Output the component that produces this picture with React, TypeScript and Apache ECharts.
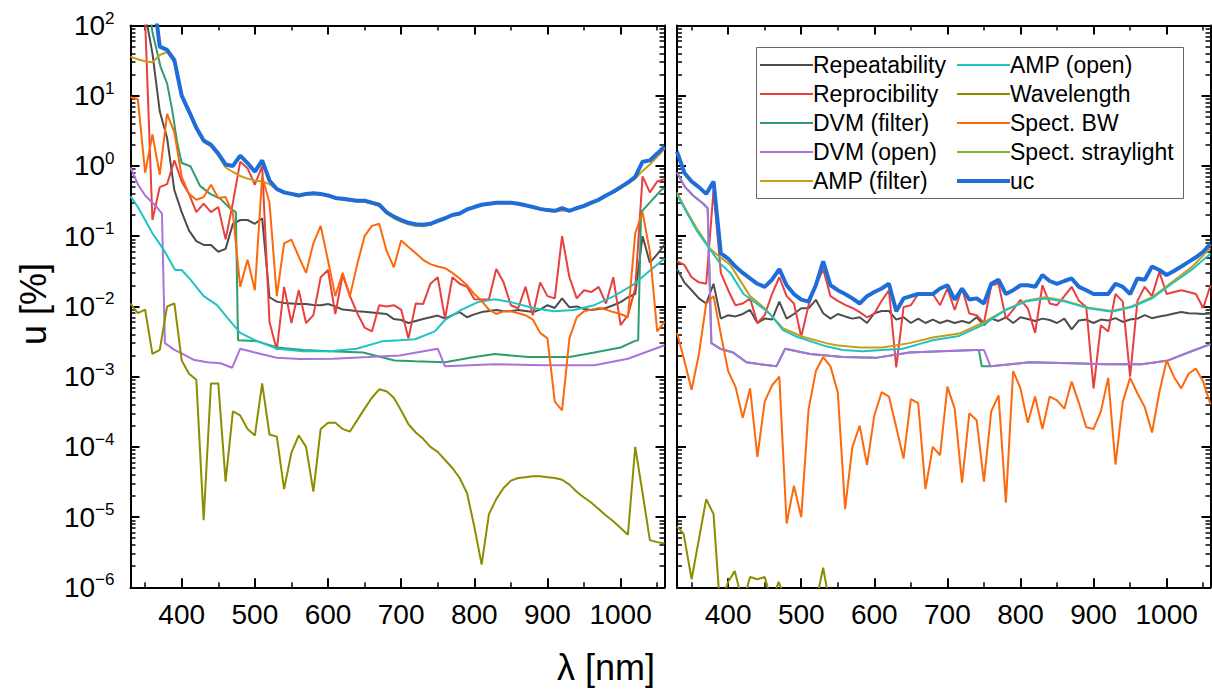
import React, { useEffect, useRef } from 'react';
import * as echarts from 'echarts';

// ---------- data ----------
const WL = [330, 340, 350, 360, 370, 380, 390, 400, 410, 420, 430, 440, 450, 460, 470, 480, 490, 500, 510, 520, 530, 540, 550, 560, 570, 580, 590, 600, 610, 620, 630, 640, 650, 660, 670, 680, 690, 700, 710, 720, 730, 740, 750, 760, 770, 780, 790, 800, 810, 820, 830, 840, 850, 860, 870, 880, 890, 900, 910, 920, 930, 940, 950, 960, 970, 980, 990, 1000, 1010, 1020, 1030, 1040, 1050, 1060];

// Left panel (values on the WL grid)
const L_uc = [1000, 1000, 800, 350, 50, 45, 32, 10, 6, 3.5,
  2.3, 2.0, 1.5, 1.05, 1.0, 1.4, 1.1, 0.83, 1.2, 0.62,
  0.47, 0.42, 0.40, 0.38, 0.40, 0.41, 0.40, 0.38, 0.35, 0.34,
  0.33, 0.32, 0.32, 0.30, 0.28, 0.22, 0.19, 0.17, 0.155, 0.148,
  0.145, 0.15, 0.165, 0.18, 0.20, 0.21, 0.24, 0.26, 0.28, 0.29,
  0.30, 0.30, 0.30, 0.29, 0.275, 0.26, 0.245, 0.235, 0.23, 0.25,
  0.23, 0.25, 0.27, 0.30, 0.33, 0.38, 0.43, 0.5, 0.58, 0.70,
  1.15, 1.2, 1.5, 1.9];
const L_ampF = [36, 33, 31, 30, 38, 42, 30, 9.5, 5.6, 3.3,
  2.2, 1.9, 1.4, 0.95, 0.82, 0.72, 0.66, 0.62, 0.6, 0.55,
  0.46, 0.41, 0.39, 0.37, 0.39, 0.40, 0.39, 0.37, 0.34, 0.33,
  0.32, 0.31, 0.31, 0.29, 0.27, 0.21, 0.18, 0.16, 0.148, 0.14,
  0.138, 0.145, 0.16, 0.175, 0.195, 0.205, 0.235, 0.255, 0.275, 0.285,
  0.295, 0.295, 0.295, 0.285, 0.27, 0.255, 0.24, 0.23, 0.225, 0.23,
  0.232, 0.245, 0.265, 0.29, 0.32, 0.37, 0.42, 0.48, 0.56, 0.66,
  0.85, 1.05, 1.35, 1.75];
const L_rep = [500, 300, 150, 40, 6, 2.5, 0.45, 0.22, 0.12, 0.085,
  0.075, 0.075, 0.06, 0.066, 0.15, 0.17, 0.17, 0.15, 0.18, 0.0135,
  0.0117, 0.0112, 0.011, 0.0108, 0.0108, 0.0105, 0.0104, 0.0108, 0.01, 0.009,
  0.0088, 0.0085, 0.0084, 0.0082, 0.008, 0.0078, 0.0066, 0.0064, 0.0058, 0.0062,
  0.0066, 0.007, 0.0074, 0.0067, 0.0075, 0.0083, 0.007, 0.0077, 0.0083, 0.0086,
  0.0089, 0.0085, 0.0085, 0.0089, 0.0086, 0.0083, 0.009, 0.0104, 0.0095, 0.013,
  0.0097, 0.01, 0.0092, 0.0089, 0.0092, 0.0095, 0.0104, 0.0115, 0.0135, 0.015,
  0.1, 0.042, 0.055, 0.075];
const L_repro = [300, 250, 120, 0.17, 0.5, 0.55, 1.2, 0.6, 0.4, 0.22,
  0.29, 0.22, 0.26, 0.09, 0.3, 1.15, 0.93, 0.54, 1.0, 0.006,
  0.0024, 0.019, 0.0058, 0.017, 0.0058, 0.0075, 0.026, 0.033, 0.0078, 0.028,
  0.014, 0.008, 0.005, 0.0044, 0.0104, 0.01, 0.0104, 0.009, 0.0035, 0.011,
  0.0108, 0.021, 0.026, 0.0067, 0.026, 0.021, 0.019, 0.0126, 0.0125, 0.0126,
  0.034, 0.022, 0.0104, 0.0094, 0.019, 0.0075, 0.022, 0.014, 0.013, 0.1,
  0.026, 0.013, 0.017, 0.016, 0.019, 0.011, 0.026, 0.0054, 0.0075, 0.018,
  0.71, 0.42, 0.6, 0.65];
const L_bw = [9.5, 9, 0.8, 2.8, 0.75, 5.5, 3.0, 0.7, 0.4, 0.33,
  0.36, 0.54, 0.35, 0.36, 0.21, 0.019, 0.046, 0.017, 0.71, 0.3,
  0.014, 0.079, 0.089, 0.051, 0.030, 0.079, 0.14, 0.045, 0.014, 0.030,
  0.014, 0.04, 0.1, 0.14, 0.15, 0.062, 0.036, 0.087, 0.07, 0.057,
  0.046, 0.04, 0.037, 0.035, 0.03, 0.025, 0.02, 0.015, 0.012, 0.009,
  0.0078, 0.0085, 0.0085, 0.008, 0.0075, 0.0065, 0.0042, 0.0035, 0.00044, 0.00033,
  0.0035, 0.007, 0.0085, 0.009, 0.0095, 0.009, 0.0083, 0.0078, 0.007, 0.11,
  0.22, 0.06, 0.0044, 0.006];
const L_wl = [0.011, 0.008, 0.009, 0.0021, 0.0024, 0.01, 0.011, 0.0017, 0.0011, 0.0009,
  9e-6, 0.0008, 0.0008, 3.2e-5, 0.00032, 0.00028, 0.00018, 0.000145, 0.0008, 0.00015,
  0.00014, 2.5e-5, 8.3e-5, 0.000145, 0.0001, 2.3e-5, 0.00018, 0.00022, 0.00022, 0.00018,
  0.000165, 0.00024, 0.00035, 0.0005, 0.00066, 0.00062, 0.0005, 0.00033, 0.00021, 0.00016,
  0.00013, 0.0001, 8.5e-5, 6.5e-5, 5e-5, 3.6e-5, 2.2e-5, 7.3e-6, 2.1e-6, 1.1e-5,
  1.8e-5, 2.6e-5, 3.3e-5, 3.6e-5, 3.7e-5, 3.8e-5, 3.8e-5, 3.7e-5, 3.6e-5, 3.4e-5,
  2.9e-5, 2.3e-5, 1.9e-5, 1.6e-5, 1.3e-5, 1.05e-5, 8.7e-6, 7e-6, 5.6e-6, 1e-4,
  2.2e-5, 4.7e-6, 4.4e-6, 4.2e-6];
// Left panel smooth curves: [wavelength, value]
const L_dvmF = [[340, 1000], [350, 500], [360, 80], [371, 26], [380, 15], [387, 6.3], [394, 2.1], [400, 1.1], [412, 0.99], [425, 0.52], [439, 0.4], [453, 0.34], [466, 0.25], [474, 0.22], [477, 0.0033], [503, 0.0032], [530, 0.0026], [566, 0.0024], [603, 0.0023], [648, 0.0022], [691, 0.0017], [719, 0.00165], [760, 0.0016], [800, 0.0019], [828, 0.0021], [874, 0.0019], [930, 0.0019], [964, 0.0022], [1000, 0.0026], [1019, 0.0032], [1024, 0.0033], [1028, 0.22], [1056, 0.46], [1060, 0.48]];
const L_dvmO = [[330, 0.95], [340, 0.55], [350, 0.38], [360, 0.3], [366, 0.26], [373, 0.21], [377, 0.003], [390, 0.0024], [398, 0.0022], [416, 0.00174], [435, 0.0016], [453, 0.00155], [469, 0.00134], [480, 0.0025], [500, 0.0022], [530, 0.00186], [562, 0.00178], [607, 0.0018], [655, 0.0019], [698, 0.002], [750, 0.0025], [760, 0.0014], [828, 0.0015], [896, 0.00145], [964, 0.00145], [1010, 0.0018], [1060, 0.0028]];
const L_ampO = [[330, 0.37], [340, 0.26], [350, 0.17], [360, 0.11], [375, 0.065], [391, 0.033], [400, 0.033], [412, 0.024], [430, 0.014], [448, 0.0105], [462, 0.007], [480, 0.0042], [503, 0.0032], [530, 0.0025], [566, 0.0023], [603, 0.0023], [639, 0.0025], [675, 0.0032], [698, 0.0033], [719, 0.0034], [746, 0.0044], [760, 0.0064], [782, 0.0089], [805, 0.0115], [828, 0.0126], [850, 0.0115], [882, 0.0094], [909, 0.0085], [936, 0.0089], [964, 0.0104], [991, 0.014], [1019, 0.021], [1041, 0.033], [1060, 0.048]];

// Right panel (values on the WL grid)
const R_uc = [1.6, 0.8, 0.6, 0.5, 0.4, 0.6, 0.057, 0.048, 0.037, 0.03,
  0.025, 0.021, 0.019, 0.024, 0.034, 0.02, 0.015, 0.0125, 0.0117, 0.02,
  0.044, 0.02, 0.017, 0.015, 0.013, 0.011, 0.014, 0.016, 0.018, 0.021,
  0.0085, 0.013, 0.014, 0.015, 0.015, 0.015, 0.018, 0.02, 0.0125, 0.018,
  0.0125, 0.013, 0.011, 0.021, 0.024, 0.015, 0.017, 0.02, 0.02, 0.019,
  0.028, 0.023, 0.021, 0.023, 0.025, 0.019, 0.017, 0.015, 0.015, 0.015,
  0.021, 0.019, 0.015, 0.025, 0.024, 0.037, 0.033, 0.028, 0.032, 0.037,
  0.043, 0.05, 0.06, 0.078];
const R_repro = [0.044, 0.039, 0.026, 0.022, 0.021, 0.45, 0.03, 0.017, 0.0104, 0.011,
  0.013, 0.0058, 0.0075, 0.015, 0.026, 0.014, 0.011, 0.0037, 0.0104, 0.02,
  0.034, 0.014, 0.012, 0.0105, 0.0095, 0.0083, 0.007, 0.0079, 0.012, 0.017,
  0.00135, 0.0098, 0.0104, 0.015, 0.015, 0.015, 0.0104, 0.018, 0.0089, 0.018,
  0.0079, 0.0075, 0.0058, 0.02, 0.021, 0.0067, 0.009, 0.0124, 0.0094, 0.0042,
  0.02, 0.011, 0.0104, 0.014, 0.019, 0.012, 0.0098, 0.00068, 0.0054, 0.0044,
  0.015, 0.0117, 0.001, 0.012, 0.019, 0.014, 0.031, 0.015, 0.016, 0.017,
  0.016, 0.015, 0.0095, 0.02];
const R_rep = [0.034, 0.022, 0.017, 0.013, 0.011, 0.021, 0.0067, 0.0075, 0.0072, 0.0078,
  0.0089, 0.0058, 0.0067, 0.0065, 0.0117, 0.0067, 0.0078, 0.0094, 0.0094, 0.0124,
  0.008, 0.0067, 0.0078, 0.0072, 0.0067, 0.007, 0.0058, 0.008, 0.0086, 0.0086,
  0.0065, 0.007, 0.0058, 0.0067, 0.0058, 0.0065, 0.0058, 0.0063, 0.0058, 0.0062,
  0.0058, 0.007, 0.0054, 0.0067, 0.0062, 0.007, 0.0058, 0.007, 0.0066, 0.0062,
  0.0067, 0.0064, 0.0058, 0.0067, 0.0047, 0.0063, 0.0065, 0.0058, 0.0065, 0.0063,
  0.0068, 0.006, 0.0065, 0.0067, 0.0075, 0.0068, 0.0072, 0.0075, 0.0079, 0.0083,
  0.008, 0.0079, 0.0078, 0.0079];
const R_bw = [0.0042, 0.0017, 0.00065, 0.0021, 0.011, 0.014, 0.004, 0.0012, 0.00072, 0.00026,
  0.00068, 7.2e-5, 0.00044, 0.00075, 0.001, 8.1e-6, 2.8e-5, 1.0e-5, 0.00034, 0.0012,
  0.0019, 0.0014, 0.0006, 1.3e-5, 1e-4, 0.0002, 5.5e-5, 0.00028, 0.0006, 0.00052,
  0.00019, 6.8e-5, 0.00048, 0.00042, 2.5e-5, 1e-4, 7.6e-5, 0.00072, 0.00035, 3.1e-5,
  0.0003, 0.00024, 3.2e-5, 0.00032, 0.00054, 1.6e-5, 0.0012, 0.00068, 0.00022, 0.00052,
  0.00018, 0.00052, 0.00046, 0.00035, 0.00085, 0.00042, 0.00019, 0.00018, 0.00032, 0.00096,
  5.6e-5, 0.00044, 0.00096, 0.00058, 0.00037, 0.00016, 0.0006, 0.0017, 0.00099, 0.00068,
  0.0011, 0.0013, 0.00085, 0.0004];
// Right panel smooth curves: [wavelength, value]
const R_ampO = [[330, 0.39], [344, 0.21], [357, 0.12], [373, 0.07], [389, 0.041], [403, 0.03], [421, 0.015], [439, 0.011], [457, 0.0079], [475, 0.0046], [494, 0.0037], [512, 0.0032], [534, 0.0027], [557, 0.0024], [584, 0.0023], [611, 0.0024], [639, 0.0025], [666, 0.003], [680, 0.0033], [716, 0.0038], [748, 0.0054], [780, 0.0089], [807, 0.0117], [834, 0.013], [861, 0.0117], [893, 0.0094], [925, 0.0084], [952, 0.0098], [980, 0.013], [1007, 0.021], [1034, 0.033], [1052, 0.048], [1060, 0.056]];
const R_ampF = [[330, 0.42], [344, 0.22], [357, 0.13], [375, 0.067], [389, 0.05], [403, 0.039], [430, 0.014], [448, 0.0098], [475, 0.0049], [502, 0.0037], [534, 0.003], [548, 0.0028], [580, 0.0026], [611, 0.0026], [648, 0.003], [680, 0.0036], [716, 0.0041], [748, 0.0058], [780, 0.009], [807, 0.012], [834, 0.0135], [861, 0.012], [893, 0.0096], [925, 0.0086], [952, 0.01], [980, 0.0135], [1007, 0.022], [1034, 0.036], [1060, 0.068]];
const R_dvmO = [[330, 0.8], [341, 0.5], [352, 0.38], [366, 0.29], [372, 0.25], [377, 0.003], [389, 0.0025], [407, 0.0022], [425, 0.0016], [444, 0.0015], [466, 0.0014], [478, 0.0025], [512, 0.0021], [557, 0.0019], [602, 0.00185], [648, 0.0022], [691, 0.0023], [739, 0.0024], [750, 0.0024], [759, 0.0014], [812, 0.0016], [870, 0.00155], [916, 0.0015], [966, 0.0015], [1002, 0.0017], [1034, 0.0023], [1060, 0.0029]];
const R_dvmF = [[330, 0.8], [341, 0.5], [352, 0.38], [366, 0.29], [372, 0.25], [377, 0.003], [389, 0.0025], [407, 0.0022], [425, 0.0016], [444, 0.0015], [466, 0.0014], [478, 0.0025], [512, 0.0021], [557, 0.0019], [602, 0.00185], [648, 0.0022], [691, 0.0023], [739, 0.0024], [743, 0.0024], [747, 0.0014], [759, 0.0014], [812, 0.0016], [870, 0.00155], [916, 0.0015], [966, 0.0015], [1002, 0.0017], [1034, 0.0023], [1060, 0.0029]];
const R_wl = [[330, 7.3e-6], [339, 5.8e-6], [350, 1.3e-6], [370, 1.8e-5], [380, 1.1e-5], [389, 5e-7], [400, 1.2e-6], [409, 1.7e-6], [420, 6e-7], [430, 1.4e-6], [440, 1.3e-6], [450, 1.4e-6], [460, 6e-7], [469, 1.2e-6], [480, 6e-7], [520, 6e-7], [530, 1.9e-6], [540, 5e-7]];

const XMAJOR = [400, 500, 600, 700, 800, 900, 1000];
const XMINOR = [350, 450, 550, 650, 750, 850, 950, 1050];
const YMINOR_MULT = [2, 3, 4, 5, 6, 7, 8, 9];
const YDECADES = [-6, -5, -4, -3, -2, -1, 0, 1];

const LEGEND1 = ['Repeatability', 'Reprocibility', 'DVM (filter)', 'DVM (open)', 'AMP (filter)'];
const LEGEND2 = ['AMP (open)', 'Wavelength', 'Spect. BW', 'Spect. straylight', 'uc'];

const COLORS: Record<string, string> = {
  'Repeatability': '#4d4d4d',
  'Reprocibility': '#e8403f',
  'DVM (filter)': '#2f9d6c',
  'DVM (open)': '#ab72de',
  'AMP (filter)': '#c99d1a',
  'AMP (open)': '#1fc3c3',
  'Wavelength': '#8d8d00',
  'Spect. BW': '#fd680b',
  'Spect. straylight': '#7fb32a',
  'uc': '#1f6dd8',
};

const FONT = '"Liberation Sans", Arial, Helvetica, sans-serif';
const THIN_ICON = 'path://M0,0H53V2.2H0Z';
const THICK_ICON = 'path://M0,0H53V4.2H0Z';

function onGrid(vals: number[]) {
  return WL.map((w, i) => [w, vals[i]]);
}

function buildOption() {
  const minorLog: number[] = [];
  YDECADES.forEach((e) => YMINOR_MULT.forEach((m) => minorLog.push(e + Math.log10(m))));

  const lineS = { color: '#000', width: 2 };
  const grids = [
    { left: 130.5, top: 25.5, width: 534, height: 561.8 },
    { left: 677, top: 25.5, width: 533.5, height: 561.8 },
  ];

  const xAxis: any[] = [];
  const yAxis: any[] = [];
  [0, 1].forEach((g) => {
    const xb = { type: 'value', gridIndex: g, min: 330, max: 1060, splitLine: { show: false } };
    xAxis.push(
      { ...xb, position: 'bottom', axisLine: { show: true, onZero: false, lineStyle: lineS },
        axisTick: { show: true, inside: true, length: 9, customValues: XMAJOR, lineStyle: lineS },
        axisLabel: { show: true, customValues: XMAJOR, fontSize: 28, color: '#000', fontFamily: FONT, margin: 13,
          formatter: (v: number) => String(v) } },
      { ...xb, position: 'bottom', axisLine: { show: false, onZero: false },
        axisTick: { show: true, inside: true, length: 5, customValues: XMINOR, lineStyle: { color: '#000', width: 1.5 } },
        axisLabel: { show: false } },
      { ...xb, position: 'top', axisLine: { show: true, onZero: false, lineStyle: lineS },
        axisTick: { show: true, inside: true, length: 9, customValues: XMAJOR, lineStyle: lineS },
        axisLabel: { show: false } },
      { ...xb, position: 'top', axisLine: { show: false, onZero: false },
        axisTick: { show: true, inside: true, length: 5, customValues: XMINOR, lineStyle: { color: '#000', width: 1.5 } },
        axisLabel: { show: false } },
    );
    const yb = { type: 'log', logBase: 10, gridIndex: g, min: 1e-6, max: 100, interval: 1, splitNumber: 8,
      splitLine: { show: false }, minorTick: { show: false } };
    yAxis.push(
      { ...yb, position: 'left', axisLine: { show: true, onZero: false, lineStyle: lineS },
        axisTick: { show: true, inside: true, length: 9, lineStyle: lineS },
        axisLabel: {
          show: g === 0, margin: 16,
          formatter: (v: number) => {
            const e = Math.round(Math.log10(v));
            return '{b|10}{s|' + (e < 0 ? '\u2212' + (-e) : String(e)) + '}';
          },
          rich: {
            b: { fontSize: 28, fontFamily: FONT, color: '#000', lineHeight: 32 },
            s: { fontSize: 17, fontFamily: FONT, color: '#000', lineHeight: 22, verticalAlign: 'top' },
          },
        } },
      { ...yb, position: 'right', axisLine: { show: true, onZero: false, lineStyle: lineS },
        axisTick: { show: true, inside: true, length: 9, lineStyle: lineS },
        axisLabel: { show: false } },
      { type: 'value', gridIndex: g, min: -6, max: 2, position: 'left', splitLine: { show: false },
        axisLine: { show: false, onZero: false },
        axisTick: { show: true, inside: true, length: 5, customValues: minorLog, lineStyle: { color: '#000', width: 1.5 } },
        axisLabel: { show: false } },
      { type: 'value', gridIndex: g, min: -6, max: 2, position: 'right', splitLine: { show: false },
        axisLine: { show: false, onZero: false },
        axisTick: { show: true, inside: true, length: 5, customValues: minorLog, lineStyle: { color: '#000', width: 1.5 } },
        axisLabel: { show: false } },
    );
  });

  const mk = (name: string, data: any[], g: number, width = 2) => ({
    type: 'line', name, data, xAxisIndex: g * 4, yAxisIndex: g * 4,
    symbol: 'none', showSymbol: false, clip: true, silent: true,
    lineStyle: { color: COLORS[name], width }, itemStyle: { color: COLORS[name] },
  });

  const series = [
    mk('Repeatability', onGrid(L_rep), 0),
    mk('Reprocibility', onGrid(L_repro), 0),
    mk('DVM (filter)', L_dvmF, 0),
    mk('DVM (open)', L_dvmO, 0),
    mk('AMP (filter)', onGrid(L_ampF), 0),
    mk('AMP (open)', L_ampO, 0),
    mk('Wavelength', onGrid(L_wl), 0),
    mk('Spect. BW', onGrid(L_bw), 0),
    mk('Spect. straylight', [], 0),
    mk('uc', onGrid(L_uc), 0, 4),
    mk('Repeatability', onGrid(R_rep), 1),
    mk('Reprocibility', onGrid(R_repro), 1),
    mk('DVM (filter)', R_dvmF, 1),
    mk('DVM (open)', R_dvmO, 1),
    mk('AMP (filter)', R_ampF, 1),
    mk('AMP (open)', R_ampO, 1),
    mk('Wavelength', R_wl, 1),
    mk('Spect. BW', onGrid(R_bw), 1),
    mk('Spect. straylight', [], 1),
    mk('uc', onGrid(R_uc), 1, 4),
  ];

  const legendBase = {
    orient: 'vertical', top: 53.5, padding: 0, itemGap: 6, itemWidth: 53, itemHeight: 14,
    selectedMode: false, z: 10,
    textStyle: { fontSize: 23, fontFamily: FONT, color: '#000', lineHeight: 23, padding: [0, 0, 0, -5] },
  };
  const legendData = (names: string[]) =>
    names.map((n) => ({ name: n, icon: n === 'uc' ? THICK_ICON : THIN_ICON, itemStyle: { color: COLORS[n] } }));

  return {
    animation: false,
    backgroundColor: '#fff',
    grid: grids,
    xAxis, yAxis, series,
    legend: [
      { ...legendBase, left: 760, data: legendData(LEGEND1) },
      { ...legendBase, left: 957, data: legendData(LEGEND2) },
    ],
    graphic: [
      { type: 'rect', z: 5, shape: { x: 756.5, y: 47.5, width: 427, height: 151 },
        style: { fill: '#fff', stroke: '#666', lineWidth: 1 } },
      { type: 'text', x: 33, y: 304, rotation: Math.PI / 2, z: 10,
        style: { text: 'u [%]', fontSize: 36, fontFamily: FONT, fill: '#000',
          align: 'center', verticalAlign: 'middle', textAlign: 'center', textVerticalAlign: 'middle' } },
      { type: 'text', x: 606, y: 667, z: 10,
        style: { text: '\u03bb [nm]', fontSize: 36, fontFamily: FONT, fill: '#000',
          align: 'center', verticalAlign: 'middle', textAlign: 'center', textVerticalAlign: 'middle' } },
    ],
  };
}

export default function App() {
  const ref = useRef<HTMLDivElement>(null);
  useEffect(() => {
    document.body.style.margin = '0';
    const chart = echarts.init(ref.current!, null, { renderer: 'svg' });
    chart.setOption(buildOption() as any);
    return () => chart.dispose();
  }, []);
  return <div ref={ref} style={{ width: 1212, height: 697 }} />;
}
